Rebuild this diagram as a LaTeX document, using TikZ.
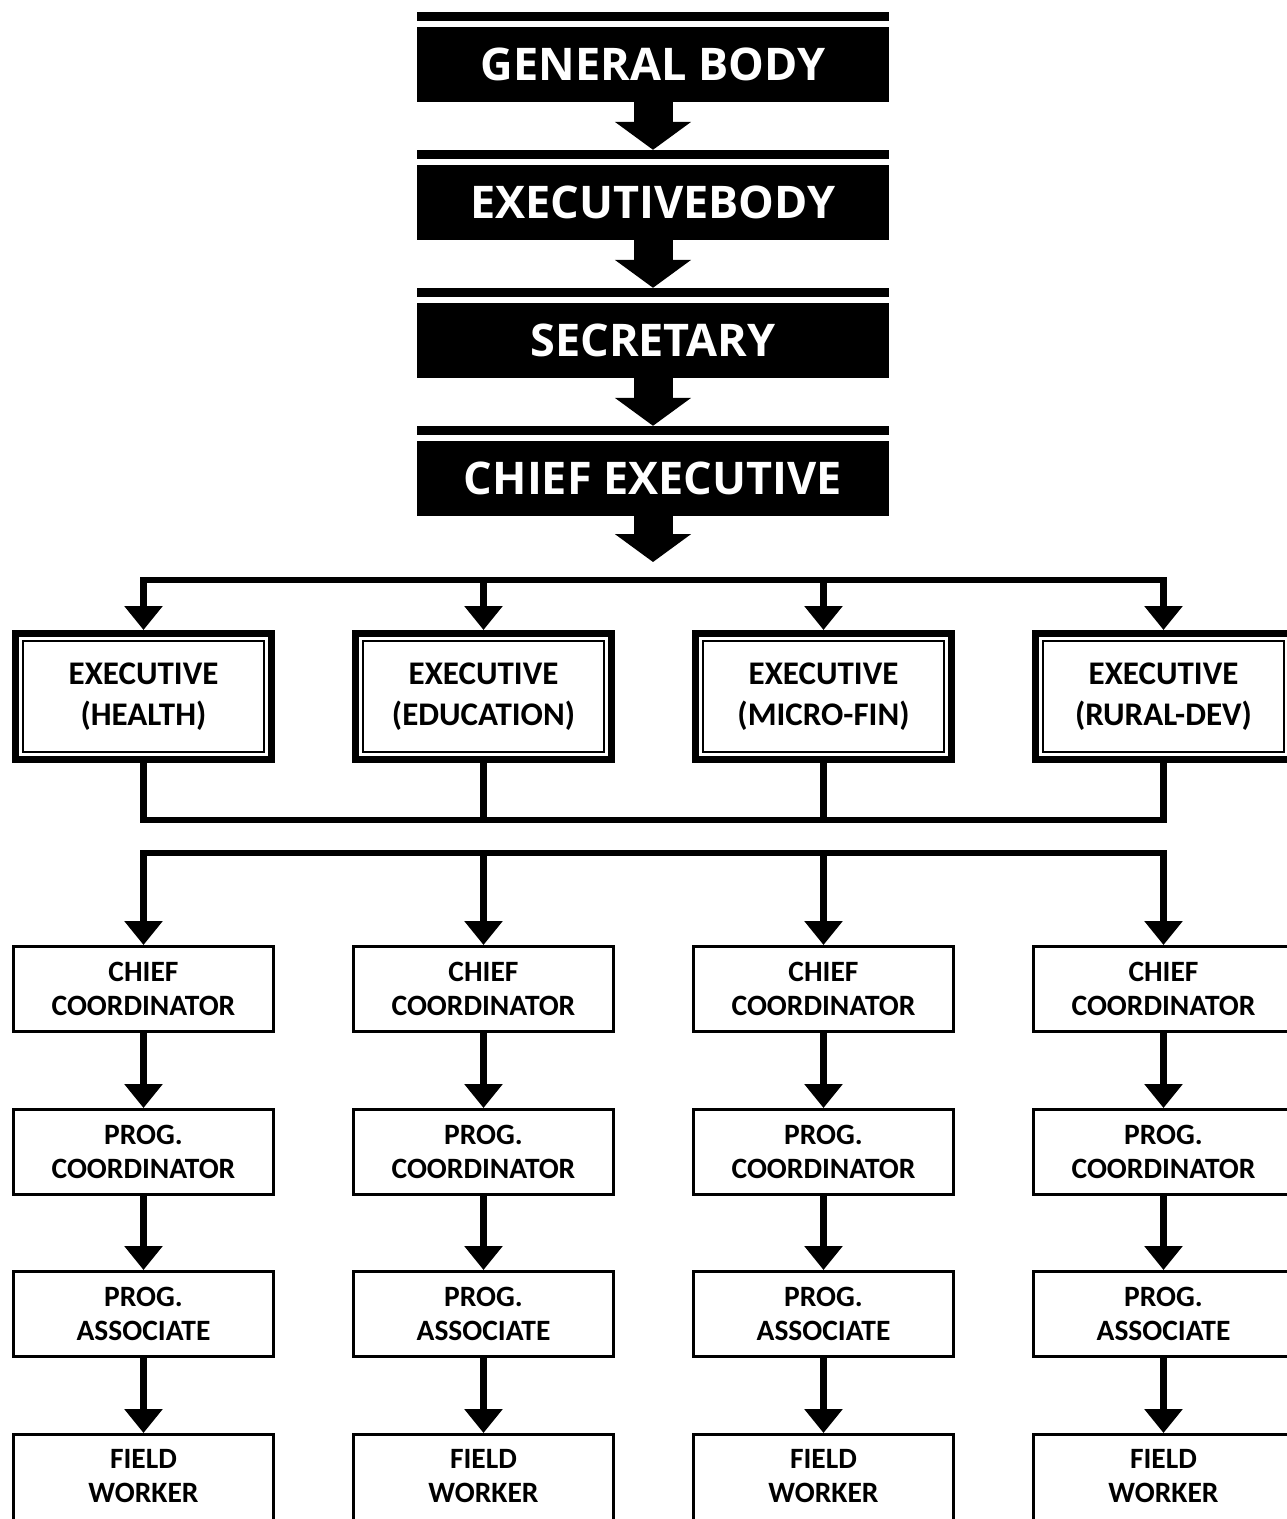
\documentclass[tikz,border=0pt]{standalone}
\usepackage{fontspec}
\setmainfont{Carlito}
\newfontfamily\topfont{Open Sans}
\usetikzlibrary{arrows.meta}
\begin{document}
\begin{tikzpicture}[x=1pt,y=-1pt,
 topbox/.style={fill=black, text=white, minimum width=472pt, minimum height=75pt, inner sep=0pt, font=\topfont\bfseries\fontsize{45}{50}\selectfont},
 execbox/.style={draw, line width=7pt, minimum width=256pt, minimum height=126pt, align=center, inner sep=0pt, font=\bfseries\fontsize{33}{41}\selectfont},
 rolebox/.style={draw, line width=3pt, minimum width=260pt, minimum height=85pt, align=center, inner sep=0pt, font=\bfseries\fontsize{29.5}{34}\selectfont},
 bigarrow/.style={line width=39pt, -{Triangle[width=75pt,length=28pt]}},
 ln/.style={line width=6.5pt, line join=miter},
 tip/.style={-{Triangle[width=37pt,length=24pt]}},
 tips/.style={{Triangle[width=37pt,length=24pt]}-{Triangle[width=37pt,length=24pt]}},
]
\useasboundingbox (0,0) rectangle (1287,1519);
\clip (0,0) rectangle (1287,1519);

% top chain
\node[topbox] (gb) at (653,64.5) {GENERAL BODY};
\node[topbox] (eb) at (653,202.5) {EXECUTIVEBODY};
\node[topbox] (sec) at (653,340.5) {SECRETARY};
\node[topbox] (ce) at (653,478.5) {CHIEF EXECUTIVE};
\foreach \n in {gb,eb,sec,ce}{
  \fill ([yshift=6pt]\n.north west) rectangle ([yshift=15pt]\n.north east);
}
\coordinate (ceTip) at (653,562);
\draw[bigarrow] (gb.south) -- ([yshift=15pt]eb.north);
\draw[bigarrow] (eb.south) -- ([yshift=15pt]sec.north);
\draw[bigarrow] (sec.south) -- ([yshift=15pt]ce.north);
\draw[bigarrow] (ce.south) -- (ceTip);

% executives
\node[execbox] (e1) at (143.5,696.5) {EXECUTIVE\\(HEALTH)};
\node[execbox] (e2) at (483.5,696.5) {EXECUTIVE\\(EDUCATION)};
\node[execbox] (e3) at (823.5,696.5) {EXECUTIVE\\(MICRO-FIN)};
\node[execbox] (e4) at (1163.5,696.5) {EXECUTIVE\\(RURAL-DEV)};
\foreach \n in {e1,e2,e3,e4}{
  \draw[line width=1.3pt] ([xshift=11pt,yshift=-11pt]\n.north west) rectangle ([xshift=-11pt,yshift=11pt]\n.south east);
}

\coordinate (bar1) at (653,580);
\coordinate (bar2) at (653,820);
\coordinate (bar3) at (653,853);

\draw[ln,tips] (e1.north) -- (e1.north |- bar1) -- (e4.north |- bar1) -- (e4.north);
\draw[ln,tip] (e2.north |- bar1) -- (e2.north);
\draw[ln,tip] (e3.north |- bar1) -- (e3.north);

\draw[ln] (e1.south) -- (e1.south |- bar2) -- (e4.south |- bar2) -- (e4.south);
\draw[ln] (e2.south) -- (e2.south |- bar2);
\draw[ln] (e3.south) -- (e3.south |- bar2);

% role columns
\foreach \i/\x in {1/143.5,2/483.5,3/823.5,4/1163.5}{
  \node[rolebox] (c\i) at (\x,989) {CHIEF\\COORDINATOR};
  \node[rolebox] (p\i) at (\x,1152) {PROG.\\COORDINATOR};
  \node[rolebox] (a\i) at (\x,1314) {PROG.\\ASSOCIATE};
  \node[rolebox, minimum height=92pt, text depth=10pt] (f\i) at (\x,1480.5) {FIELD\\WORKER};
  \draw[ln,tip] (c\i.south) -- (p\i.north);
  \draw[ln,tip] (p\i.south) -- (a\i.north);
  \draw[ln,tip] (a\i.south) -- (f\i.north);
}

\draw[ln,tips] (c1.north) -- (c1.north |- bar3) -- (c4.north |- bar3) -- (c4.north);
\draw[ln,tip] (c2.north |- bar3) -- (c2.north);
\draw[ln,tip] (c3.north |- bar3) -- (c3.north);
\end{tikzpicture}
\end{document}
